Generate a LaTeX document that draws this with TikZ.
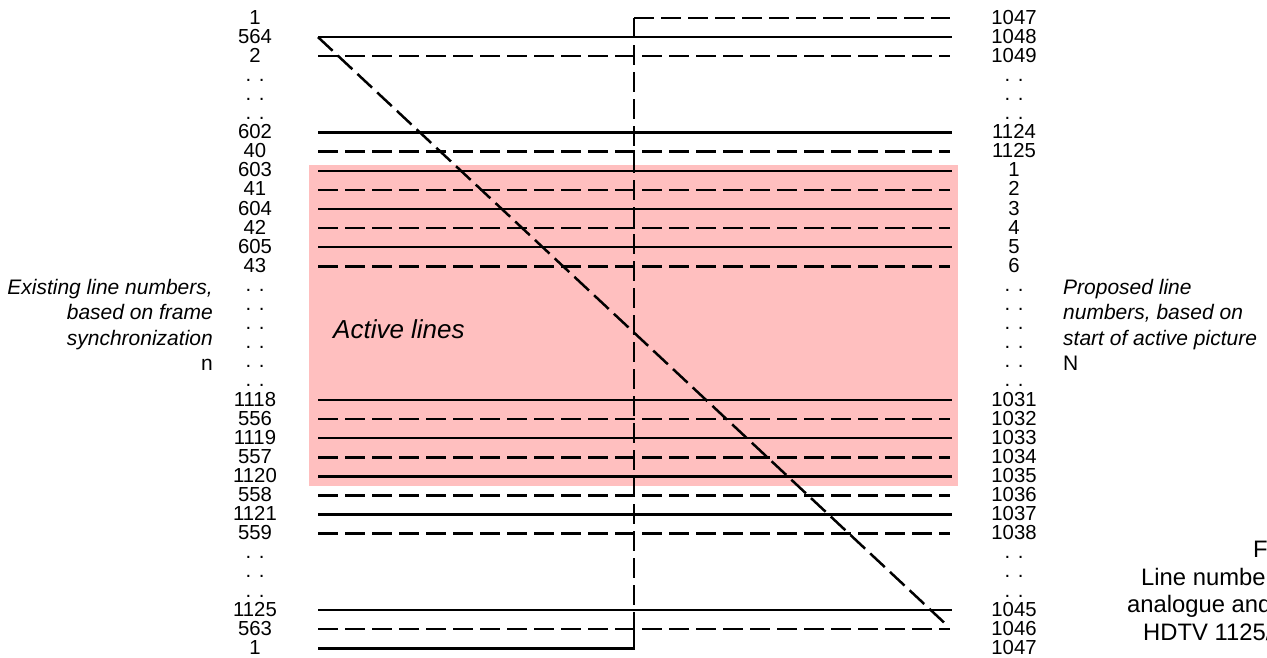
\documentclass[tikz,border=0pt]{standalone}
\usepackage{fontspec}
\setmainfont{Liberation Sans}
\definecolor{activepink}{RGB}{255,191,191}
\begin{document}
\begin{tikzpicture}[x=1pt,y=-1pt,
  numlab/.style={inner sep=0pt,anchor=base,font=\fontsize{20.3}{20.3}\selectfont},
  sidetext/.style={inner sep=0pt,font=\fontsize{21}{21}\selectfont\itshape},
  captext/.style={inner sep=0pt,anchor=base west,font=\fontsize{23.8}{23.8}\selectfont},
  solidline/.style={line width=2.5pt},
  dashline/.style={line width=2.5pt,dash pattern=on 20pt off 7pt},
]
\useasboundingbox (0,0) rectangle (1267,657);
\def\pitch{19.1}
% active area
\fill[activepink] (309,165) rectangle (958,486);
\node[inner sep=0pt,anchor=west,font=\fontsize{26}{26}\selectfont\itshape] (active) at (333,329) {Active lines};
% labels
\foreach \i/\la/\ra in {0/1/1047,1/564/1048,2/2/1049,3/. ./. .,4/. ./. .,5/. ./. .,
  6/602/1124,7/40/1125,8/603/1,9/41/2,10/604/3,11/42/4,12/605/5,13/43/6,
  14/. ./. .,15/. ./. .,16/. ./. .,17/. ./. .,18/. ./. .,19/. ./. .,
  20/1118/1031,21/556/1032,22/1119/1033,23/557/1034,24/1120/1035,25/558/1036,26/1121/1037,27/559/1038,
  28/. ./. .,29/. ./. .,30/. ./. .,31/1125/1045,32/563/1046,33/1/1047}{
  \node[numlab] (lab\i) at (255,{18+\pitch*\i+6}) {\la};
  \node[numlab] (rab\i) at (1014,{18+\pitch*\i+6}) {\ra};
}
% horizontal lines
\foreach \i/\s/\e in {1/solidline/952,2/dashline/950,6/solidline/952,7/dashline/950,8/solidline/952,9/dashline/950,
  10/solidline/952,11/dashline/950,12/solidline/952,13/dashline/950,20/solidline/952,21/dashline/950,22/solidline/952,
  23/dashline/950,24/solidline/952,25/dashline/950,26/solidline/952,27/dashline/950,31/solidline/952,32/dashline/950}{
  \coordinate (L\i) at (318,{18+\pitch*\i});
  \coordinate (R\i) at (\e,{18+\pitch*\i});
  \draw[\s] (L\i) -- (R\i);
}
% top and bottom rows with the vertical jump
\coordinate (topcorner) at (634,18);
\coordinate (topend) at (950,18);
\coordinate (botstart) at (318,{18+\pitch*33});
\coordinate (botcorner) at (634,{18+\pitch*33});
\coordinate (vjoin) at (634,{18+\pitch*32-6});
\draw[dashline] (topcorner) -- (topend);
\draw[dashline] (topcorner) -- (vjoin);
\draw[solidline] (botstart) -- (botcorner) -- (vjoin);
% diagonal
\coordinate (dstart) at (318,{18+\pitch*1});
\coordinate (dend) at (948,{18+\pitch*32-3});
\draw[dashline] (dstart) -- (dend);
% side texts
\node[sidetext,anchor=base east] (ex1) at (213,294) {Existing line numbers,};
\node[sidetext,anchor=base east] (ex2) at (213,319.5) {based on frame};
\node[sidetext,anchor=base east] (ex3) at (213,345) {synchronization};
\node[inner sep=0pt,anchor=base east,font=\fontsize{21}{21}\selectfont] (exn) at (213,370) {n};
\node[sidetext,anchor=base west] (pr1) at (1063,294) {Proposed line};
\node[sidetext,anchor=base west] (pr2) at (1063,319.5) {numbers, based on};
\node[sidetext,anchor=base west] (pr3) at (1063,345) {start of active picture};
\node[inner sep=0pt,anchor=base west,font=\fontsize{21}{21}\selectfont] (prn) at (1063,370) {N};
% caption (cut off at the right edge)
\node[captext] (cap1) at (1253,557) {F};
\node[captext] (cap2) at (1141,585) {Line number};
\node[captext] (cap3) at (1127,612) {analogue and};
\node[captext] (cap4) at (1143,640) {HDTV 1125/};
\end{tikzpicture}
\end{document}
